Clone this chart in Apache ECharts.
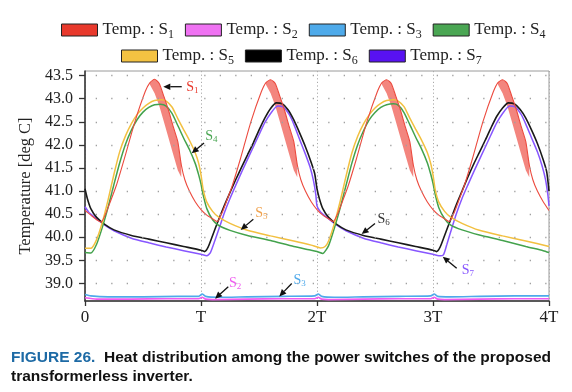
<!DOCTYPE html>
<html><head><meta charset="utf-8">
<script src="https://cdn.jsdelivr.net/npm/echarts@6/dist/echarts.min.js"></script>
<style>html,body{margin:0;padding:0;background:#fff}#c{width:572px;height:392px}</style>
</head><body><div id="c"></div>
<script>
// ---------------- data (t in units of T, temperature in deg C) ----------------
const xTicks = [0, 1, 2, 3, 4];
const xTickLabels = ['0', 'T', '2T', '3T', '4T'];
const yTicks = [39.0, 39.5, 40.0, 40.5, 41.0, 41.5, 42.0, 42.5, 43.0, 43.5];

const s1T = [0.00,0.05,0.10,0.14,0.18,0.22,0.27,0.34,0.43,0.52,0.56,0.60,0.64,0.68,0.72,0.76,0.80,0.83,0.86,0.90,0.95,
             1.00,1.05,1.10,1.14,1.18,1.22,1.27,1.34,1.43,1.52,1.56,1.60,1.64,1.68,1.72,1.76,1.80,1.83,1.86,1.90,1.95,
             2.00,2.05,2.10,2.14,2.18,2.22,2.27,2.34,2.43,2.52,2.56,2.60,2.64,2.68,2.72,2.76,2.80,2.83,2.86,2.90,2.95,
             3.00,3.05,3.10,3.14,3.18,3.22,3.27,3.34,3.43,3.52,3.56,3.60,3.64,3.68,3.72,3.76,3.80,3.83,3.86,3.90,3.95,4.00];
const s1V = [40.58,40.48,40.38,40.33,40.52,40.78,41.12,41.71,42.50,43.16,43.35,43.42,43.33,43.05,42.75,42.40,42.07,41.57,41.25,41.00,40.77,
             40.60,40.48,40.40,40.34,40.52,40.78,41.12,41.70,42.50,43.15,43.35,43.41,43.33,43.05,42.75,42.40,42.07,41.57,41.25,41.00,40.77,
             40.60,40.48,40.40,40.34,40.52,40.78,41.12,41.70,42.50,43.15,43.35,43.41,43.33,43.05,42.75,42.40,42.07,41.57,41.25,41.00,40.77,
             40.60,40.48,40.40,40.34,40.52,40.78,41.12,41.70,42.50,43.15,43.35,43.41,43.33,43.05,42.75,42.40,42.07,41.57,41.25,41.00,40.77,40.58];
// switching ripple band of S1 (between lower and upper envelope), 8 points per period
const s1BandT  = [0.56,0.60,0.64,0.68,0.72,0.76,0.80,0.83, 1.56,1.60,1.64,1.68,1.72,1.76,1.80,1.83,
                  2.56,2.60,2.64,2.68,2.72,2.76,2.80,2.83, 3.56,3.60,3.64,3.68,3.72,3.76,3.80,3.83];
const s1BandHi = [43.35,43.42,43.33,43.05,42.75,42.40,42.07,41.57, 43.35,43.41,43.33,43.05,42.75,42.40,42.07,41.57,
                  43.35,43.41,43.33,43.05,42.75,42.40,42.07,41.57, 43.35,43.41,43.33,43.05,42.75,42.40,42.07,41.57];
const s1BandLo = [43.30,43.12,42.85,42.50,42.15,41.80,41.45,41.30, 43.30,43.12,42.85,42.50,42.15,41.80,41.45,41.30,
                  43.30,43.12,42.85,42.50,42.15,41.80,41.45,41.30, 43.30,43.12,42.85,42.50,42.15,41.80,41.45,41.30];
const s1Periods = [0, 1, 2, 3];

const s2T = [0,0.1,0.4,0.7,0.98,1.01,1.04,1.1,1.4,1.7,1.98,2.01,2.04,2.1,2.4,2.7,2.98,3.01,3.04,3.1,3.4,3.7,4.0];
const s2V = [38.69,38.66,38.66,38.67,38.67,38.70,38.66,38.65,38.66,38.67,38.67,38.70,38.66,38.65,38.66,38.67,38.67,38.70,38.66,38.65,38.66,38.67,38.67];

const s3T = [0,0.05,0.2,0.5,0.8,0.98,1.01,1.04,1.15,1.4,1.7,1.98,2.01,2.04,2.15,2.4,2.7,2.98,3.01,3.04,3.15,3.4,3.7,4.0];
const s3V = [38.76,38.73,38.71,38.71,38.72,38.72,38.77,38.72,38.70,38.71,38.72,38.73,38.77,38.72,38.70,38.71,38.72,38.73,38.77,38.72,38.71,38.72,38.73,38.73];

const s4T = [0,0.05,0.10,0.15,0.20,0.25,0.30,0.35,0.40,0.45,0.50,0.55,0.60,0.65,0.70,0.75,0.80,0.85,0.90,0.95,0.98,1.00,1.02,1.05,1.10,1.15,1.25,1.40,1.60,1.80,1.95,
             2.00,2.05,2.10,2.15,2.20,2.25,2.30,2.35,2.40,2.45,2.50,2.55,2.60,2.66,2.70,2.75,2.80,2.85,2.90,2.95,2.98,3.00,3.02,3.05,3.10,3.15,3.25,3.40,3.60,3.80,3.95,4.00];
const s4V = [39.67,39.66,39.85,40.22,40.66,41.15,41.62,42.02,42.32,42.55,42.71,42.81,42.87,42.88,42.84,42.68,42.42,42.15,41.90,41.60,41.35,41.15,40.90,40.62,40.38,40.26,40.15,40.04,39.93,39.80,39.72,
             39.69,39.65,39.82,40.20,40.64,41.12,41.60,42.00,42.30,42.54,42.70,42.81,42.87,42.89,42.86,42.70,42.44,42.17,41.92,41.62,41.37,41.17,40.92,40.64,40.40,40.27,40.16,40.05,39.93,39.80,39.71,39.67];

const s5T = [0,0.05,0.10,0.15,0.20,0.25,0.30,0.35,0.40,0.45,0.50,0.55,0.60,0.66,0.70,0.75,0.80,0.85,0.90,0.95,0.98,1.00,1.02,1.05,1.10,1.15,1.25,1.40,1.60,1.80,1.95,
             2.03,2.07,2.10,2.15,2.20,2.25,2.30,2.35,2.40,2.45,2.50,2.55,2.60,2.66,2.70,2.75,2.80,2.85,2.90,2.95,2.98,3.00,3.02,3.05,3.10,3.15,3.25,3.40,3.60,3.80,4.00];
const s5V = [39.76,39.76,39.95,40.33,40.82,41.37,41.86,42.20,42.46,42.66,42.80,42.90,42.96,42.98,42.95,42.82,42.57,42.33,42.10,41.83,41.60,41.35,41.02,40.76,40.56,40.44,40.30,40.15,40.03,39.92,39.83,
             39.77,39.80,39.92,40.30,40.78,41.32,41.82,42.18,42.45,42.65,42.80,42.90,42.96,42.98,42.95,42.83,42.58,42.34,42.11,41.84,41.60,41.35,41.02,40.76,40.56,40.44,40.30,40.15,40.03,39.92,39.80];

const s6T = [0,0.02,0.05,0.10,0.17,0.25,0.40,0.55,0.70,0.85,1.00,1.03,1.06,1.10,1.15,1.20,1.25,1.30,1.35,1.40,1.45,1.50,1.55,1.60,1.65,1.70,1.75,1.80,1.85,1.90,1.95,1.98,2.00,
             2.02,2.05,2.10,2.17,2.25,2.40,2.55,2.70,2.85,3.00,3.03,3.06,3.10,3.15,3.20,3.25,3.30,3.35,3.40,3.45,3.50,3.55,3.60,3.65,3.70,3.75,3.80,3.85,3.90,3.95,3.98,4.00];
const s6V = [41.05,40.84,40.62,40.43,40.28,40.16,40.04,39.96,39.88,39.80,39.72,39.69,39.78,40.04,40.37,40.68,40.97,41.25,41.52,41.78,42.04,42.32,42.58,42.79,42.91,42.89,42.76,42.54,42.26,41.96,41.62,41.38,41.05,
             40.84,40.62,40.43,40.28,40.16,40.04,39.96,39.88,39.80,39.72,39.69,39.78,40.04,40.37,40.70,41.00,41.30,41.58,41.84,42.10,42.37,42.62,42.80,42.91,42.89,42.77,42.58,42.32,42.03,41.68,41.42,41.00];

const s7T = [0,0.03,0.06,0.10,0.17,0.25,0.40,0.55,0.70,0.85,1.00,1.05,1.08,1.12,1.16,1.20,1.25,1.30,1.35,1.40,1.45,1.50,1.55,1.60,1.66,1.71,1.76,1.80,1.85,1.90,1.94,1.97,1.99,2.00,
             2.03,2.06,2.10,2.17,2.25,2.40,2.55,2.70,2.85,3.00,3.05,3.09,3.12,3.16,3.20,3.25,3.30,3.35,3.40,3.45,3.50,3.55,3.60,3.66,3.71,3.76,3.80,3.85,3.90,3.94,3.97,3.99,4.00];
const s7V = [40.66,40.55,40.48,40.40,40.26,40.14,39.98,39.88,39.79,39.71,39.63,39.60,39.66,39.93,40.22,40.52,40.84,41.13,41.41,41.68,41.95,42.22,42.48,42.68,42.84,42.82,42.66,42.45,42.12,41.80,41.52,41.22,40.92,40.68,
             40.55,40.48,40.40,40.26,40.14,39.98,39.88,39.79,39.71,39.63,39.60,39.62,39.85,40.18,40.50,40.84,41.13,41.41,41.68,41.95,42.22,42.48,42.68,42.84,42.82,42.66,42.45,42.15,41.85,41.55,41.25,40.92,40.68];

// ---------------- styling ----------------
const lineColors = {S1:'#ec4a3e', S2:'#ef5cf0', S3:'#4fa9ea', S4:'#43a24c', S5:'#f2c040', S6:'#1a1a1a', S7:'#8756ff'};
const swatchColors = {S1:'#e8392c', S2:'#ef72f2', S3:'#4eaaea', S4:'#4aa653', S5:'#f3c242', S6:'#000000', S7:'#5812f2'};
const serif = 'Liberation Serif';

function zip(t, v) { return t.map((x, i) => [x, v[i]]); }

const chart = echarts.init(document.getElementById('c'), null, {renderer: 'canvas'});

function lineSeries(name, t, v, width, extra) {
  return Object.assign({
    type: 'line', name: name, data: zip(t, v), showSymbol: false, symbol: 'none',
    smooth: 0.2,
    lineStyle: {color: lineColors[name], width: width},
    itemStyle: {color: swatchColors[name]},
    emphasis: {disabled: true}, silent: true
  }, extra || {});
}

function legendData(names) {
  return names.map(n => ({name: n, itemStyle: {color: swatchColors[n], borderColor: '#222', borderWidth: 1}}));
}
const legendCommon = {
  orient: 'horizontal', icon: 'rect', itemWidth: 36, itemHeight: 12, itemGap: 11,
  selectedMode: false,
  formatter: n => 'Temp. : S{sub|' + n.slice(1) + '}',
  textStyle: {fontFamily: serif, fontSize: 17, color: '#222', lineHeight: 22,
    rich: {sub: {fontFamily: serif, fontSize: 12, lineHeight: 12, verticalAlign: 'bottom', color: '#222'}}}
};

chart.setOption({
  animation: false,
  backgroundColor: '#fff',
  title: {
    left: 6, top: 343,
    text: '{f|FIGURE 26.}  Heat distribution among the power switches of the proposed\ntransformerless inverter.',
    textStyle: {fontFamily: 'Liberation Sans', fontWeight: 'bold', fontSize: 15.5, color: '#111', lineHeight: 19,
      rich: {f: {fontFamily: 'Liberation Sans', fontWeight: 'bold', fontSize: 15.5, color: '#1d6aa5', lineHeight: 19}}}
  },
  legend: [
    Object.assign({}, legendCommon, {left: 56, top: 14, data: legendData(['S1','S2','S3','S4'])}),
    Object.assign({}, legendCommon, {left: 116, top: 40, data: legendData(['S5','S6','S7'])})
  ],
  grid: {left: 85, right: 23, top: 71, bottom: 91, show: true, borderColor: '#9a9a9a', borderWidth: 1, containLabel: false},
  xAxis: {
    type: 'value', min: 0, max: 4, interval: 1,
    axisLine: {show: true, onZero: false, lineStyle: {color: '#333', width: 1.5}},
    axisTick: {show: true, inside: false, length: 5, lineStyle: {color: '#333', width: 1.3}},
    axisLabel: {fontFamily: serif, fontSize: 17, color: '#222', margin: 8,
      formatter: v => xTickLabels[xTicks.indexOf(Math.round(v))] || ''},
    splitLine: {show: true, lineStyle: {color: '#aaa', width: 1, type: [1.2, 2.4]}}
  },
  yAxis: {
    type: 'value', min: 38.62, max: 43.6,
    name: 'Temperature [deg C]', nameLocation: 'middle', nameGap: 51,
    nameTextStyle: {fontFamily: serif, fontSize: 16.5, color: '#222'},
    axisLine: {show: true, lineStyle: {color: '#333', width: 1.5}},
    axisTick: {show: true, inside: false, length: 6, customValues: yTicks, lineStyle: {color: '#333', width: 1.3}},
    axisLabel: {customValues: yTicks, fontFamily: serif, fontSize: 16, color: '#222', margin: 12,
      formatter: v => Number(v).toFixed(1)},
    splitLine: {show: false}
  },
  series: [
    {type: 'line', name: 'grid', data: [], silent: true,
     markLine: {silent: true, symbol: ['none', 'none'], animation: false, label: {show: false},
       lineStyle: {color: '#a0a0a0', width: 1.3, type: [1.3, 14.2], dashOffset: 4.8},
       emphasis: {disabled: true},
       data: yTicks.map(v => ({yAxis: v}))}},
    lineSeries('S2', s2T, s2V, 1.6),
    lineSeries('S3', s3T, s3V, 1.6),
    lineSeries('S7', s7T, s7V, 1.5),
    lineSeries('S6', s6T, s6V, 1.6),
    lineSeries('S4', s4T, s4V, 1.5),
    lineSeries('S5', s5T, s5V, 1.5),
    lineSeries('S1', s1T, s1V, 1.1, {smooth: 0.2}),
    {type: 'custom', name: 'S1', coordinateSystem: 'cartesian2d', silent: true, clip: true,
     itemStyle: {color: swatchColors.S1},
     data: s1Periods.map(k => [k + 0.6, 42]),
     renderItem: function (params, api) {
       const k = params.dataIndex, n = 8, pts = [];
       for (let j = 0; j < n; j++) pts.push(api.coord([s1BandT[k*n+j], s1BandHi[k*n+j]]));
       for (let j = n - 1; j >= 0; j--) pts.push(api.coord([s1BandT[k*n+j], s1BandLo[k*n+j]]));
       return {type: 'polygon', shape: {points: pts}, style: {fill: 'rgba(235,58,46,0.62)', stroke: 'none'}};
     }}
  ]
});

// ---------------- annotations (positions in data coordinates) ----------------
const annotations = [
  {sub: '1', color: '#e8392c', text: [0.925, 43.24], from: [0.834, 43.26], to: [0.675, 43.26]},
  {sub: '4', color: '#4aa653', text: [1.09, 42.18], from: [1.026, 42.04], to: [0.92, 41.82]},
  {sub: '5', color: '#f0a24e', text: [1.52, 40.52], from: [1.451, 40.39], to: [1.342, 40.16]},
  {sub: '6', color: '#333333', text: [2.575, 40.39], from: [2.50, 40.30], to: [2.385, 40.07]},
  {sub: '7', color: '#8756ff', text: [3.30, 39.29], from: [3.204, 39.33], to: [3.084, 39.58]},
  {sub: '2', color: '#ef5cf0', text: [1.295, 39.00], from: [1.235, 38.93], to: [1.121, 38.67]},
  {sub: '3', color: '#4fa9ea', text: [1.85, 39.07], from: [1.782, 39.00], to: [1.675, 38.72]}
];
const g = [];
annotations.forEach(a => {
  const p0 = chart.convertToPixel({gridIndex: 0}, a.from);
  const p1 = chart.convertToPixel({gridIndex: 0}, a.to);
  const pt = chart.convertToPixel({gridIndex: 0}, a.text);
  const dx = p1[0] - p0[0], dy = p1[1] - p0[1], L = Math.hypot(dx, dy);
  const ux = dx / L, uy = dy / L, hl = 7, hw = 3.2;
  const bx = p1[0] - ux * hl, by = p1[1] - uy * hl;
  g.push({type: 'line', silent: true, z: 100,
    shape: {x1: p0[0], y1: p0[1], x2: bx, y2: by}, style: {stroke: '#111', lineWidth: 1.3}});
  g.push({type: 'polygon', silent: true, z: 100,
    shape: {points: [[p1[0], p1[1]], [bx - uy * hw, by + ux * hw], [bx + uy * hw, by - ux * hw]]},
    style: {fill: '#111'}});
  g.push({type: 'text', silent: true, z: 100, x: pt[0], y: pt[1],
    style: {text: '{s|S}{b|' + a.sub + '}', align: 'center', verticalAlign: 'middle', fill: a.color,
      rich: {s: {fontFamily: serif, fontSize: 14, fill: a.color, lineHeight: 16},
             b: {fontFamily: serif, fontSize: 9, fill: a.color, lineHeight: 9, verticalAlign: 'bottom'}}}});
});
chart.setOption({graphic: g});
</script></body></html>
